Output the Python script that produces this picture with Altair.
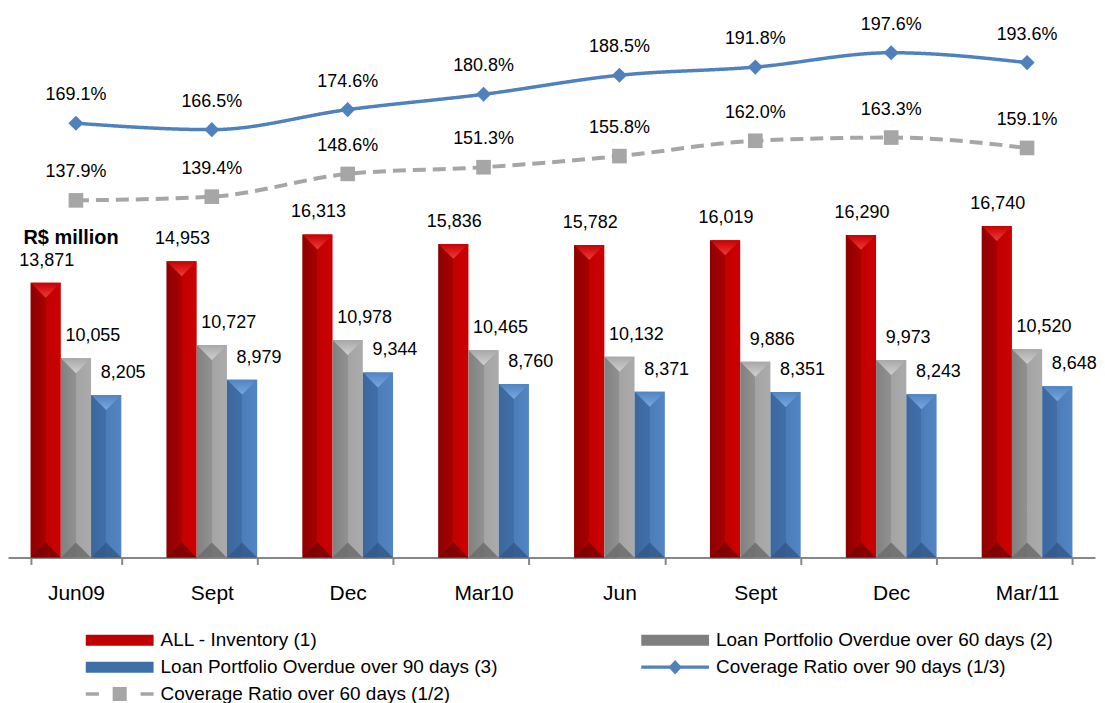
import altair as alt
import pandas as pd

periods = ["Jun09", "Sep09", "Dec09", "Mar10", "Jun10", "Sep10", "Dec10", "Mar11"]
period_labels = ["Jun09", "Sept", "Dec", "Mar10", "Jun", "Sept", "Dec", "Mar/11"]

all_inventory = [13871, 14953, 16313, 15836, 15782, 16019, 16290, 16740]
overdue_60 = [10055, 10727, 10978, 10465, 10132, 9886, 9973, 10520]
overdue_90 = [8205, 8979, 9344, 8760, 8371, 8351, 8243, 8648]
coverage_90 = [169.1, 166.5, 174.6, 180.8, 188.5, 191.8, 197.6, 193.6]
coverage_60 = [137.9, 139.4, 148.6, 151.3, 155.8, 162.0, 163.3, 159.1]

bar_series = ["ALL - Inventory (1)",
              "Loan Portfolio Overdue over 60 days (2)",
              "Loan Portfolio Overdue over 90 days (3)"]
line_series = ["Coverage Ratio over 90 days (1/3)",
               "Coverage Ratio over 60 days (1/2)"]
# legend is filled column by column: col 1 = ALL, LP90, Cov60 ; col 2 = LP60, Cov90
legend_order = [bar_series[0], bar_series[2], line_series[1], bar_series[1], line_series[0]]

bar_rows = []
for s, vals in zip(bar_series, [all_inventory, overdue_60, overdue_90]):
    for p, v in zip(periods, vals):
        bar_rows.append({"period": p, "series": s, "value": v})
bar_df = pd.DataFrame(bar_rows)

line_rows = []
for s, vals in zip(line_series, [coverage_90, coverage_60]):
    for p, v in zip(periods, vals):
        line_rows.append({"period": p, "series": s, "value": v})
line_df = pd.DataFrame(line_rows)

BLUE_LINE = "#4F81BD"
GRAY_LINE = "#A6A6A6"

label_expr = "[" + ",".join("'%s'" % l for l in period_labels) + "][indexof([" + \
    ",".join("'%s'" % p for p in periods) + "], datum.value)]"

x_enc = alt.X(
    "period:N", sort=periods,
    scale=alt.Scale(domain=periods, paddingInner=0.332, paddingOuter=0.166),
    axis=alt.Axis(title=None, labelFontSize=21, labelColor="black", labelPadding=18,
                  tickSize=7, tickColor="#868686", tickWidth=2, domainColor="#868686",
                  domainWidth=2, tickBand="extent", labelAngle=0, grid=False,
                  labelExpr=label_expr),
)
xoff_enc = alt.XOffset("series:N", scale=alt.Scale(domain=bar_series, paddingInner=0, paddingOuter=0))

bar_dom = [0, 27700]
line_dom = [-6.5, 215.3]


def grad(stops):
    return alt.Gradient(gradient="linear", x1=0, x2=1, y1=0, y2=0,
                        stops=[alt.GradientStop(offset=o, color=c) for o, c in stops])


def vgrad(stops):
    return alt.Gradient(gradient="linear", x1=0, x2=0, y1=0, y2=1,
                        stops=[alt.GradientStop(offset=o, color=c) for o, c in stops])


bar_styles = {
    bar_series[0]: [(0, "#8E0000"), (0.5, "#A80000"), (0.5, "#C20000"), (1, "#CC0000")],
    bar_series[1]: [(0, "#808080"), (0.5, "#929292"), (0.5, "#A4A4A4"), (1, "#ABABAB")],
    bar_series[2]: [(0, "#3A679E"), (0.5, "#426FA8"), (0.5, "#4A7DBA"), (1, "#5285C2")],
}
top_tri = {
    bar_series[0]: [(0, "#C80000"), (1, "#F03A3A")],
    bar_series[1]: [(0, "#A8A8A8"), (1, "#D0D0D0")],
    bar_series[2]: [(0, "#4F84C4"), (1, "#7AA7DE")],
}
bottom_tri = {
    bar_series[0]: "#7A0000",
    bar_series[1]: "#6C6C6C",
    bar_series[2]: "#34598A",
}
label_dx = {bar_series[0]: 1, bar_series[1]: 17, bar_series[2]: 17}

layers = []
for i, s in enumerate(bar_series):
    if i == 0:
        yax = alt.Axis(title="R$ million", titleAngle=0, titleAlign="left", titleBaseline="middle",
                       titleX=15, titleY=229, titleFontSize=20, titleFontWeight="bold",
                       titleColor="black", domain=False, ticks=False, labels=False, grid=False)
    else:
        yax = None
    y_bar = alt.Y("value:Q", scale=alt.Scale(domain=bar_dom), axis=yax)
    y_bar_na = alt.Y("value:Q", scale=alt.Scale(domain=bar_dom), axis=None)
    base = alt.Chart(bar_df).transform_filter(alt.datum.series == s)
    layers.append(base.mark_bar(color=grad(bar_styles[s]))
                  .encode(x=x_enc, xOffset=xoff_enc, y=y_bar))
    # bevel: lighter triangle at the top, darker one at the bottom
    layers.append(base.mark_point(shape="M-1,0L1,0L0,1Z", size=900, filled=True, opacity=1,
                                  strokeWidth=0, color=vgrad(top_tri[s]))
                  .encode(x=x_enc, xOffset=xoff_enc, y=y_bar_na))
    layers.append(base.transform_calculate(zero="0")
                  .mark_point(shape="M-1,0L1,0L0,-1Z", size=900, filled=True, opacity=0.85,
                              strokeWidth=0, color=bottom_tri[s])
                  .encode(x=x_enc, xOffset=xoff_enc,
                          y=alt.Y("zero:Q", scale=alt.Scale(domain=bar_dom), axis=None)))
    layers.append(base.mark_text(dy=-22, dx=label_dx[s], fontSize=18, color="black")
                  .encode(x=x_enc, xOffset=xoff_enc, y=y_bar_na,
                          text=alt.Text("value:Q", format=",")))

line_styles = {
    line_series[0]: dict(color=BLUE_LINE, shape="diamond", size=230, dash=[1, 0], width=3.5),
    line_series[1]: dict(color=GRAY_LINE, shape="square", size=215, dash=[13, 7], width=4),
}
for s in line_series:
    st = line_styles[s]
    base = alt.Chart(line_df).transform_filter(alt.datum.series == s)
    y_line = alt.Y("value:Q", scale=alt.Scale(domain=line_dom), axis=None)
    layers.append(base.mark_line(color=st["color"], strokeWidth=st["width"], strokeDash=st["dash"],
                                 interpolate="monotone").encode(x=x_enc, y=y_line))
    layers.append(base.mark_point(shape=st["shape"], size=st["size"], filled=True, opacity=1,
                                  color=st["color"]).encode(x=x_enc, y=y_line))
    layers.append(base.transform_calculate(label="format(datum.value, '.1f') + '%'")
                  .mark_text(dy=-28, fontSize=18, color="black")
                  .encode(x=x_enc, y=y_line, text="label:N"))

legend_colors_map = {
    bar_series[0]: "#C00000",
    bar_series[1]: "#7F7F7F",
    bar_series[2]: "#3F6FA8",
    line_series[0]: BLUE_LINE,
    line_series[1]: GRAY_LINE,
}
legend_paths_map = {
    bar_series[0]: "M-1,-0.5H5.18V0.5H-1Z",
    bar_series[1]: "M-1,-0.5H5.18V0.5H-1Z",
    bar_series[2]: "M-1,-0.5H5.18V0.5H-1Z",
    line_series[0]: "M-1,-0.14H5.18V0.14H-1Z M2.09,-0.66L2.7,0L2.09,0.66L1.48,0Z",
    line_series[1]: "M-1,-0.16H0.2V0.16H-1Z M1.45,-0.64H2.73V0.64H1.45Z M4,-0.16H5.18V0.16H4Z",
}
legend_colors = [legend_colors_map[s] for s in legend_order]
legend_paths = [legend_paths_map[s] for s in legend_order]

leg = alt.Legend(title=None, orient="none", legendX=78, legendY=622, columns=2,
                 columnPadding=144, rowPadding=6, labelFontSize=19, labelColor="black",
                 labelOffset=53, symbolStrokeWidth=0, labelLimit=0, padding=0,
                 symbolSize=484, symbolOpacity=1)
legend_df = pd.DataFrame({"series": legend_order})
layers.append(
    alt.Chart(legend_df).transform_filter("false")
    .mark_point(filled=True, opacity=1, size=484)
    .encode(color=alt.Color("series:N", sort=legend_order,
                            scale=alt.Scale(domain=legend_order, range=legend_colors), legend=leg),
            shape=alt.Shape("series:N", sort=legend_order,
                            scale=alt.Scale(domain=legend_order, range=legend_paths), legend=leg))
)

chart = (
    alt.layer(*layers)
    .resolve_scale(y="independent")
    .properties(width=1090, height=550, padding=0)
    .configure(font="Liberation Sans")
    .configure_view(stroke=None)
)

chart.save("out.html", embed_options={"renderer": "svg", "actions": False})
